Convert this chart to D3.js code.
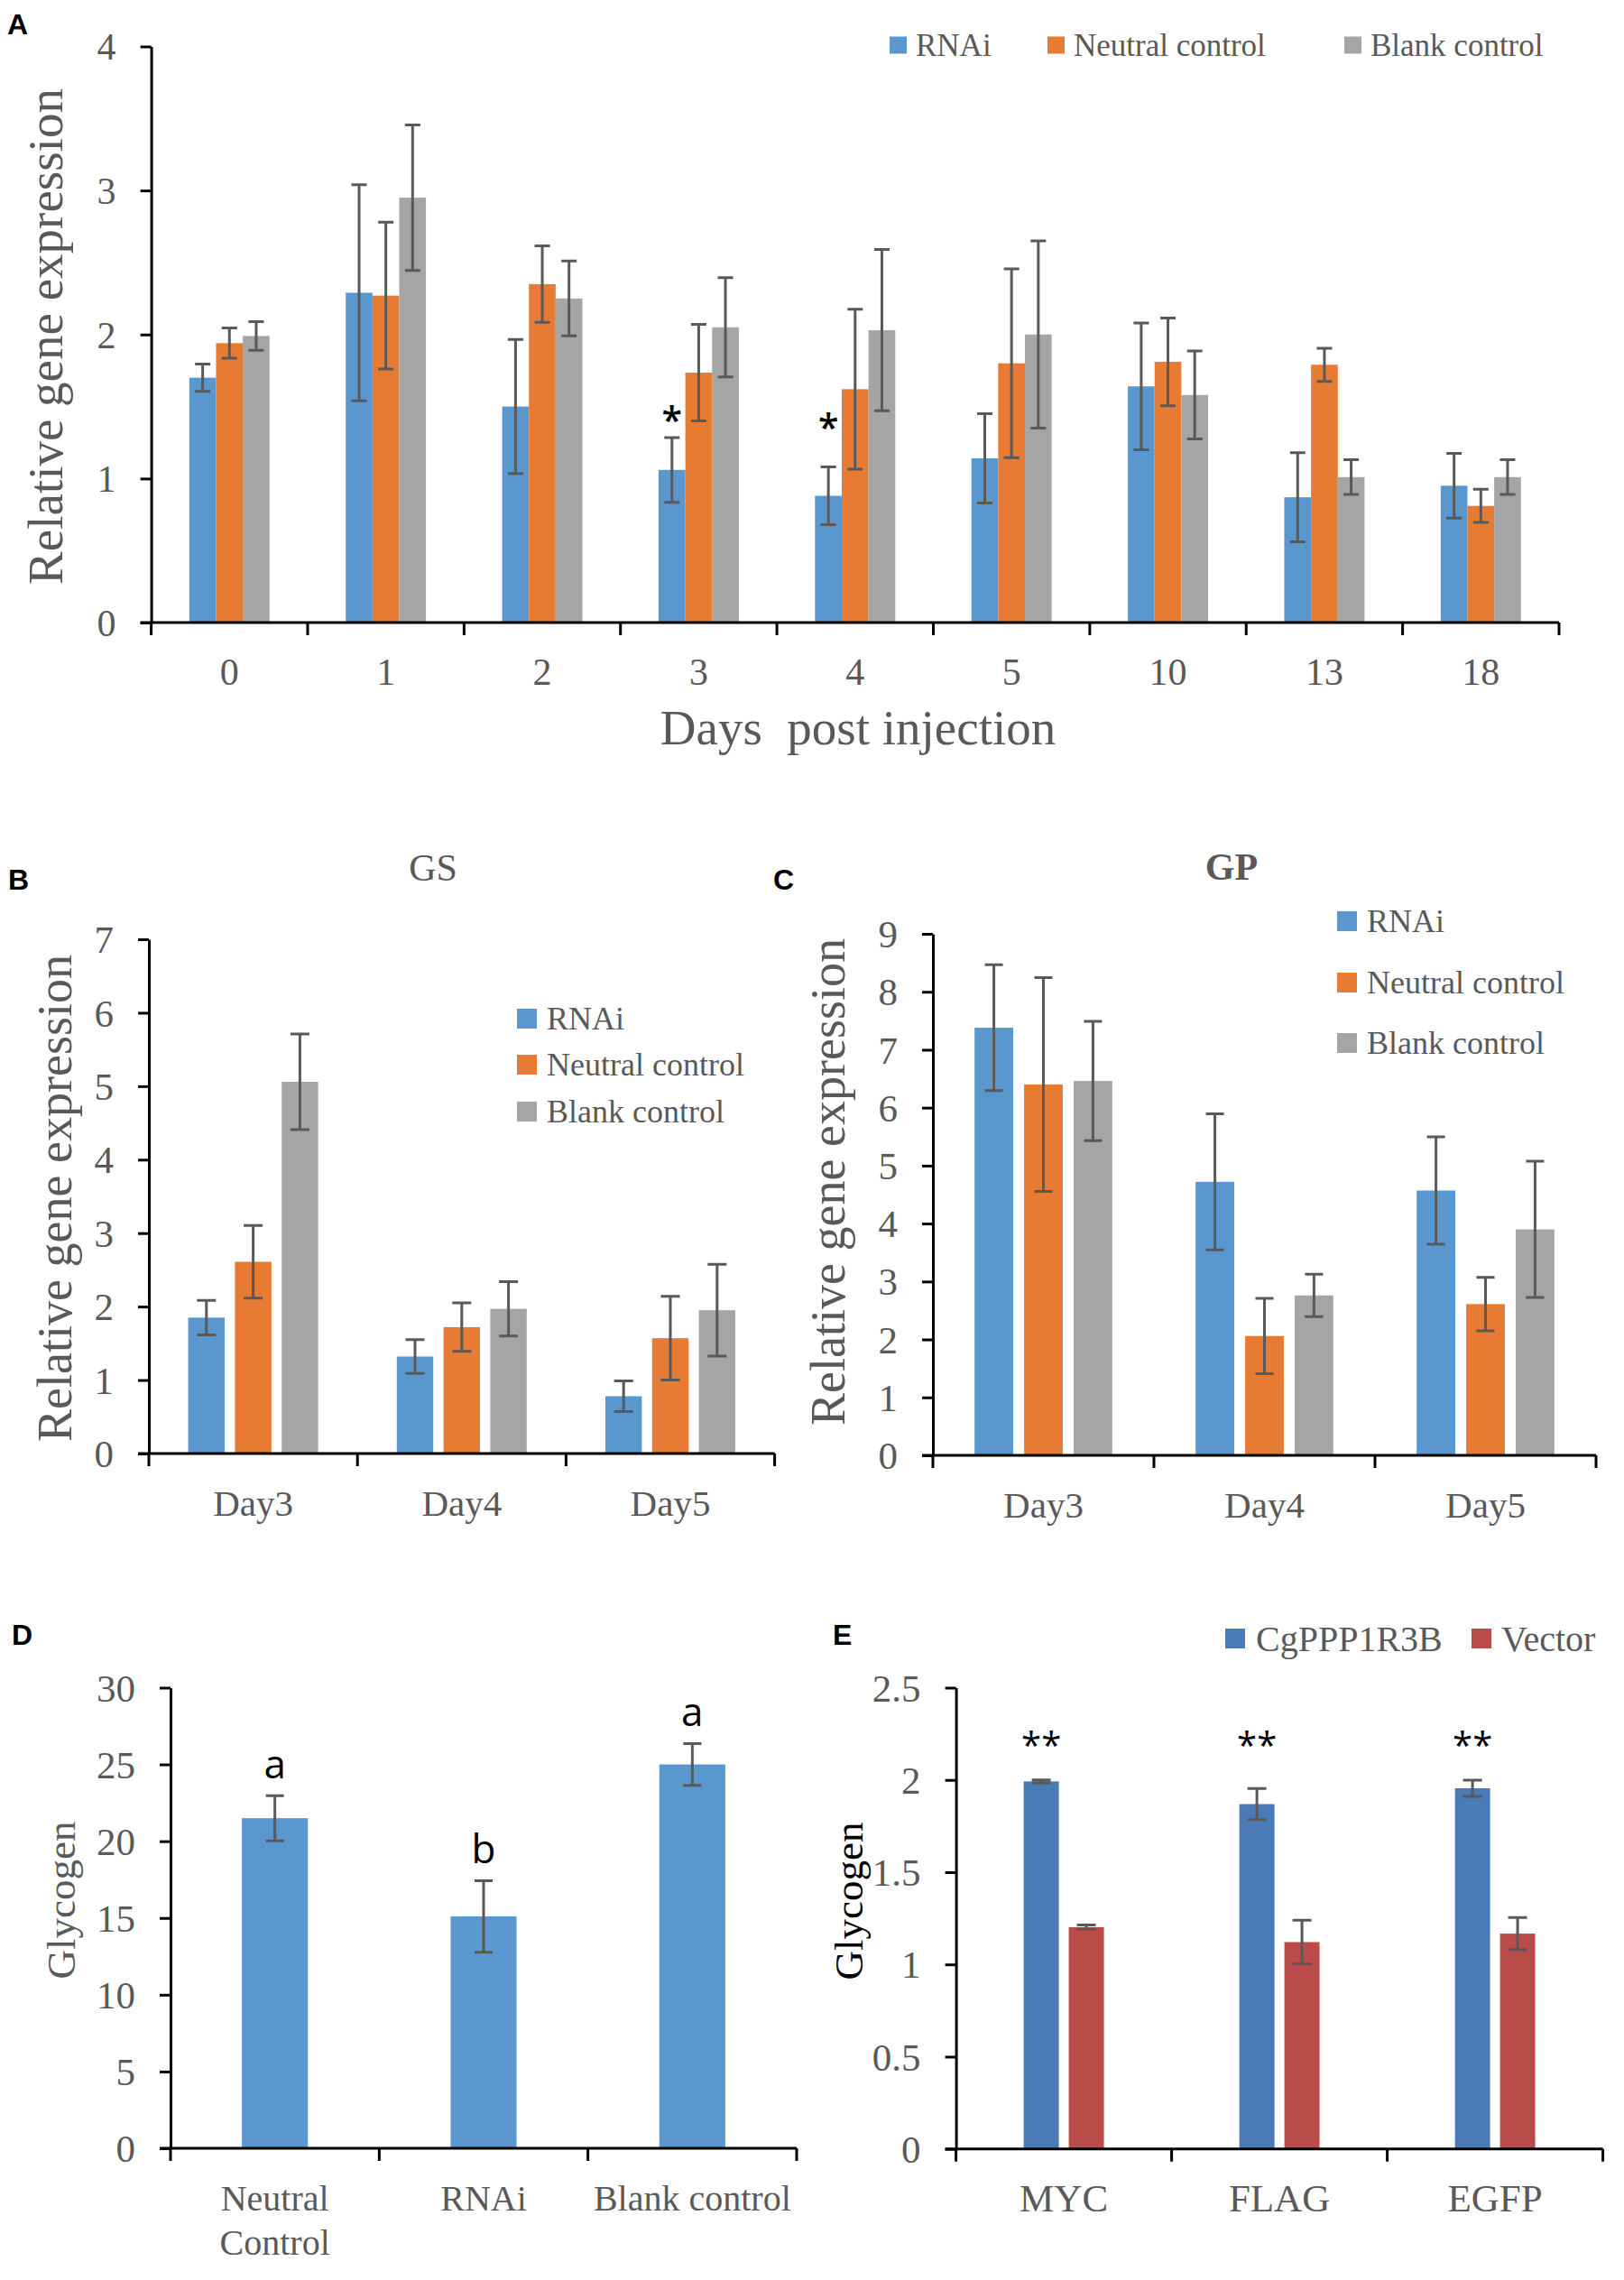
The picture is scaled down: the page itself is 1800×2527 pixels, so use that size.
<!DOCTYPE html>
<html><head><meta charset="utf-8">
<script src="https://cdn.jsdelivr.net/npm/d3@7"></script>
<style>
body{margin:0;background:#fff}
svg{display:block}
</style></head><body>
<svg id="c" width="1800" height="2527"></svg>
<script>
// ---------- DATA ----------
const seriesNames = ["RNAi", "Neutral control", "Blank control"];
// Panel A
const aDays = ["0","1","2","3","4","5","10","13","18"];
const aRNAi       = [1.70, 2.29, 1.50, 1.06, 0.88, 1.14, 1.64, 0.87, 0.95];
const aRNAiErr    = [0.095,0.75, 0.465,0.225,0.20, 0.31, 0.44, 0.31, 0.225];
const aNeutral    = [1.94, 2.27, 2.35, 1.735,1.62, 1.80, 1.81, 1.79, 0.81];
const aNeutralErr = [0.105,0.51, 0.265,0.335,0.555,0.655,0.305,0.115,0.115];
const aBlank      = [1.99, 2.95, 2.25, 2.05, 2.03, 2.00, 1.58, 1.01, 1.01];
const aBlankErr   = [0.10, 0.505,0.26, 0.345,0.56, 0.65, 0.305,0.12, 0.12];
const aYTicks = [0,1,2,3,4];
const aStarDays = ["3","4"];
const aStarY = [1.46, 1.41];
// Panel B (GS)
const bDays = ["Day3","Day4","Day5"];
const bRNAi = [1.85, 1.32, 0.78],  bRNAiErr = [0.235, 0.23, 0.21];
const bNeutral = [2.61, 1.72, 1.57], bNeutralErr = [0.495, 0.33, 0.57];
const bBlank = [5.06, 1.97, 1.95], bBlankErr = [0.65, 0.37, 0.625];
const bYTicks = [0,1,2,3,4,5,6,7];
// Panel C (GP)
const cDays = ["Day3","Day4","Day5"];
const cRNAi = [7.38, 4.72, 4.57], cRNAiErr = [1.085, 1.175, 0.925];
const cNeutral = [6.40, 2.06, 2.61], cNeutralErr = [1.845, 0.65, 0.46];
const cBlank = [6.46, 2.76, 3.90], cBlankErr = [1.03, 0.365, 1.175];
const cYTicks = [0,1,2,3,4,5,6,7,8,9];
// Panel D
const dGroups = ["Neutral Control","RNAi","Blank control"];
const dGroupLines = [["Neutral","Control"],["RNAi"],["Blank control"]];
const dGlycogen = [21.5, 15.1, 25.0];
const dGlycogenErr = [1.47, 2.33, 1.36];
const dLetters = ["a","b","a"];
const dYTicks = [0,5,10,15,20,25,30];
// Panel E
const eGroups = ["MYC","FLAG","EGFP"];
const eSeriesNames = ["CgPPP1R3B","Vector"];
const eCg = [1.992, 1.869, 1.955], eCgErr = [0.008, 0.084, 0.044];
const eVec = [1.202, 1.121, 1.167], eVecErr = [0.012, 0.118, 0.087];
const eSig = ["**","**","**"];
const eSigY = 2.23;
const eYTicks = [0,0.5,1,1.5,2,2.5];

// ---------- STYLE ----------
const C_BLUE="#5b97cf", C_ORANGE="#e87b33", C_GREY="#a5a5a5";
const C_EBLUE="#4a7bb6", C_ERED="#bb4b48";
const TXT="#595959";
const SERIF='"Liberation Serif","Times New Roman",serif';
const SANS='"Liberation Sans",Arial,sans-serif';
const OPEN='"Open Sans","Noto Sans",sans-serif';

const svg=d3.select("#c");
svg.append("rect").attr("width",1800).attr("height",2527).attr("fill","#fff");

function drawPanel(p){
  const g=svg.append("g");
  const x=d3.scaleBand().domain(p.cats).range([p.x0,p.x1]).paddingInner(0).paddingOuter(0);
  const y=d3.scaleLinear().domain([0,p.max]).range([p.y0,p.yTop]);
  const gw=x.bandwidth()*p.groupFrac;
  const inner=d3.scaleBand().domain(p.series.map(s=>s.name)).range([0,gw]).paddingInner(p.padInner).paddingOuter(0);
  const off=(x.bandwidth()-gw)/2;
  const cx=(c,s)=>x(c)+off+inner(s)+inner.bandwidth()/2;
  p.series.forEach(s=>{
    g.append("g").selectAll("rect").data(p.cats.map((c,i)=>({c,v:s.values[i]}))).enter().append("rect")
      .attr("x",d=>x(d.c)+off+inner(s.name)).attr("width",inner.bandwidth())
      .attr("y",d=>y(d.v)).attr("height",d=>y(0)-y(d.v)).attr("fill",s.color);
  });
  p.series.forEach(s=>{
    g.append("g").selectAll("path").data(p.cats.map((c,i)=>({c,v:s.values[i],e:s.errs[i]}))).enter().append("path")
      .attr("d",d=>{const xc=cx(d.c,s.name),t=y(d.v+d.e),b=y(d.v-d.e),h=p.capW/2;
        return `M${xc},${t}V${b}M${xc-h},${t}H${xc+h}M${xc-h},${b}H${xc+h}`;})
      .attr("stroke","#595959").attr("stroke-width",3).attr("fill","none");
  });
  // y axis
  const ya=d3.axisLeft(y).tickValues(p.ticks).tickSize(12).tickSizeOuter(0).tickFormat(d3.format("~g"));
  const yg=g.append("g").attr("transform",`translate(${p.x0},0)`).call(ya)
    .attr("font-size",null).attr("font-family",null);
  yg.select(".domain").attr("stroke","#000").attr("stroke-width",3);
  yg.selectAll(".tick line").attr("stroke","#000").attr("stroke-width",3);
  yg.selectAll(".tick text").attr("x",-39).attr("dy","0.34em").attr("fill",TXT)
    .style("font-family",SERIF).style("font-size",p.yTickFont+"px");
  // x axis
  g.append("line").attr("x1",p.x0-12).attr("x2",p.x1).attr("y1",p.y0).attr("y2",p.y0)
    .attr("stroke","#000").attr("stroke-width",3);
  g.append("g").selectAll("line").data(d3.range(p.cats.length+1)).enter().append("line")
    .attr("x1",i=>p.x0+i*x.step()).attr("x2",i=>p.x0+i*x.step())
    .attr("y1",p.y0).attr("y2",p.y0+14).attr("stroke","#000").attr("stroke-width",3);
  const lines=p.catLines||p.cats.map(c=>[c]);
  const xt=g.append("g").selectAll("text").data(p.cats).enter().append("text")
    .attr("text-anchor","middle").attr("fill",TXT)
    .style("font-family",SERIF).style("font-size",p.xTickFont+"px");
  xt.each(function(c,i){
    const t=d3.select(this);
    lines[i].forEach((ln,j)=>{
      t.append("tspan").attr("x",x(c)+x.bandwidth()/2).attr("y",p.y0+55+j*p.lineGap).attr("dy","0.34em").text(ln);
    });
  });
  return {x,y,cx};
}

function legend(items, font){
  const g=svg.append("g");
  items.forEach(it=>{
    g.append("rect").attr("x",it.sx).attr("y",it.cy-it.size/2).attr("width",it.size).attr("height",it.size).attr("fill",it.color);
    g.append("text").attr("x",it.tx).attr("y",it.cy).attr("dy","0.34em").attr("fill",TXT)
      .style("font-family",SERIF).style("font-size",font+"px").text(it.label);
  });
}
function ylabel(txt,x,y,size,color){
  svg.append("text").attr("transform",`translate(${x},${y}) rotate(-90)`).attr("text-anchor","middle")
    .attr("fill",color||TXT).style("font-family",SERIF).style("font-size",size+"px").text(txt);
}
function plabel(txt,x,y){
  svg.append("text").attr("x",x).attr("y",y).attr("fill","#000").style("font-family",SANS)
    .style("font-weight","bold").style("font-size","32px").text(txt);
}

// ---------- PANEL A ----------
const colors3=[C_BLUE,C_ORANGE,C_GREY];
const A=drawPanel({x0:167.6,x1:1728,y0:690,yTop:51.5,max:4,ticks:aYTicks,cats:aDays,
  series:[{name:seriesNames[0],color:colors3[0],values:aRNAi,errs:aRNAiErr},
          {name:seriesNames[1],color:colors3[1],values:aNeutral,errs:aNeutralErr},
          {name:seriesNames[2],color:colors3[2],values:aBlank,errs:aBlankErr}],
  groupFrac:0.513,padInner:0,capW:17,yTickFont:42,xTickFont:42,lineGap:0});
svg.append("g").selectAll("text").data(aStarDays).enter().append("text")
  .attr("x",(d)=>A.cx(d,seriesNames[0])).attr("y",(d,i)=>A.y(aStarY[i])+23)
  .attr("text-anchor","middle").attr("fill","#000").style("font-family",OPEN)
  .style("font-weight","600").style("font-size","41px").text("*");
legend([
  {sx:986,tx:1015,cy:50,size:19,color:colors3[0],label:seriesNames[0]},
  {sx:1161,tx:1190,cy:50,size:19,color:colors3[1],label:seriesNames[1]},
  {sx:1490,tx:1519,cy:50,size:19,color:colors3[2],label:seriesNames[2]}],35);
ylabel("Relative gene expression",69,373,55);
svg.append("text").attr("x",951).attr("y",825).attr("text-anchor","middle").attr("fill",TXT)
  .style("font-family",SERIF).style("font-size","55px").style("white-space","pre").text("Days  post injection");
plabel("A",8,38);

// ---------- PANEL B ----------
drawPanel({x0:165,x1:858.6,y0:1611,yTop:1041,max:7,ticks:bYTicks,cats:bDays,
  series:[{name:seriesNames[0],color:colors3[0],values:bRNAi,errs:bRNAiErr},
          {name:seriesNames[1],color:colors3[1],values:bNeutral,errs:bNeutralErr},
          {name:seriesNames[2],color:colors3[2],values:bBlank,errs:bBlankErr}],
  groupFrac:0.623,padInner:0.22,capW:21,yTickFont:43,xTickFont:41,lineGap:0});
legend([
  {sx:573,tx:606,cy:1129,size:22,color:colors3[0],label:seriesNames[0]},
  {sx:573,tx:606,cy:1180,size:22,color:colors3[1],label:seriesNames[1]},
  {sx:573,tx:606,cy:1232,size:22,color:colors3[2],label:seriesNames[2]}],36);
ylabel("Relative gene expression",79,1328,54);
svg.append("text").attr("x",480).attr("y",976).attr("text-anchor","middle").attr("fill",TXT)
  .style("font-family",SERIF).style("font-size","42px").text("GS");
plabel("B",9,986);

// ---------- PANEL C ----------
drawPanel({x0:1034,x1:1769,y0:1613,yTop:1035,max:9,ticks:cYTicks,cats:cDays,
  series:[{name:seriesNames[0],color:colors3[0],values:cRNAi,errs:cRNAiErr},
          {name:seriesNames[1],color:colors3[1],values:cNeutral,errs:cNeutralErr},
          {name:seriesNames[2],color:colors3[2],values:cBlank,errs:cBlankErr}],
  groupFrac:0.623,padInner:0.22,capW:20,yTickFont:43,xTickFont:41,lineGap:0});
legend([
  {sx:1482,tx:1515,cy:1021,size:22,color:colors3[0],label:seriesNames[0]},
  {sx:1482,tx:1515,cy:1089,size:22,color:colors3[1],label:seriesNames[1]},
  {sx:1482,tx:1515,cy:1156,size:22,color:colors3[2],label:seriesNames[2]}],36);
ylabel("Relative gene expression",936,1310,54);
svg.append("text").attr("x",1365).attr("y",975).attr("text-anchor","middle").attr("fill",TXT)
  .style("font-family",SERIF).style("font-weight","bold").style("font-size","42px").text("GP");
plabel("C",857,986);

// ---------- PANEL D ----------
const D=drawPanel({x0:189,x1:883,y0:2381,yTop:1870.5,max:30,ticks:dYTicks,cats:dGroups,catLines:dGroupLines,
  series:[{name:"Glycogen",color:C_BLUE,values:dGlycogen,errs:dGlycogenErr}],
  groupFrac:0.316,padInner:0,capW:20,yTickFont:43,xTickFont:40,lineGap:49});
svg.append("g").selectAll("text").data(dGroups).enter().append("text")
  .attr("x",d=>D.cx(d,"Glycogen")).attr("y",(d,i)=>D.y(dGlycogen[i]+dGlycogenErr[i])-19)
  .attr("text-anchor","middle").attr("fill","#000").style("font-family",OPEN).style("font-size","44px")
  .text((d,i)=>dLetters[i]);
ylabel("Glycogen",83,2106,45);
plabel("D",13,1823);

// ---------- PANEL E ----------
const E=drawPanel({x0:1059.6,x1:1776.6,y0:2381.7,yTop:1870.5,max:2.5,ticks:eYTicks,cats:eGroups,
  series:[{name:eSeriesNames[0],color:C_EBLUE,values:eCg,errs:eCgErr},
          {name:eSeriesNames[1],color:C_ERED,values:eVec,errs:eVecErr}],
  groupFrac:0.372,padInner:0.22,capW:21,yTickFont:43,xTickFont:43,lineGap:0});
svg.append("g").selectAll("text").data(eGroups).enter().append("text")
  .attr("x",d=>E.cx(d,eSeriesNames[0])).attr("y",E.y(eSigY)+23)
  .attr("text-anchor","middle").attr("fill","#000").style("font-family",OPEN).style("font-size","40px")
  .text((d,i)=>eSig[i]);
legend([
  {sx:1358,tx:1392,cy:1816,size:22,color:C_EBLUE,label:eSeriesNames[0]},
  {sx:1631,tx:1664,cy:1816,size:22,color:C_ERED,label:eSeriesNames[1]}],40);
ylabel("Glycogen",956,2107,45,"#000");
plabel("E",923,1823);
</script>
</body></html>
